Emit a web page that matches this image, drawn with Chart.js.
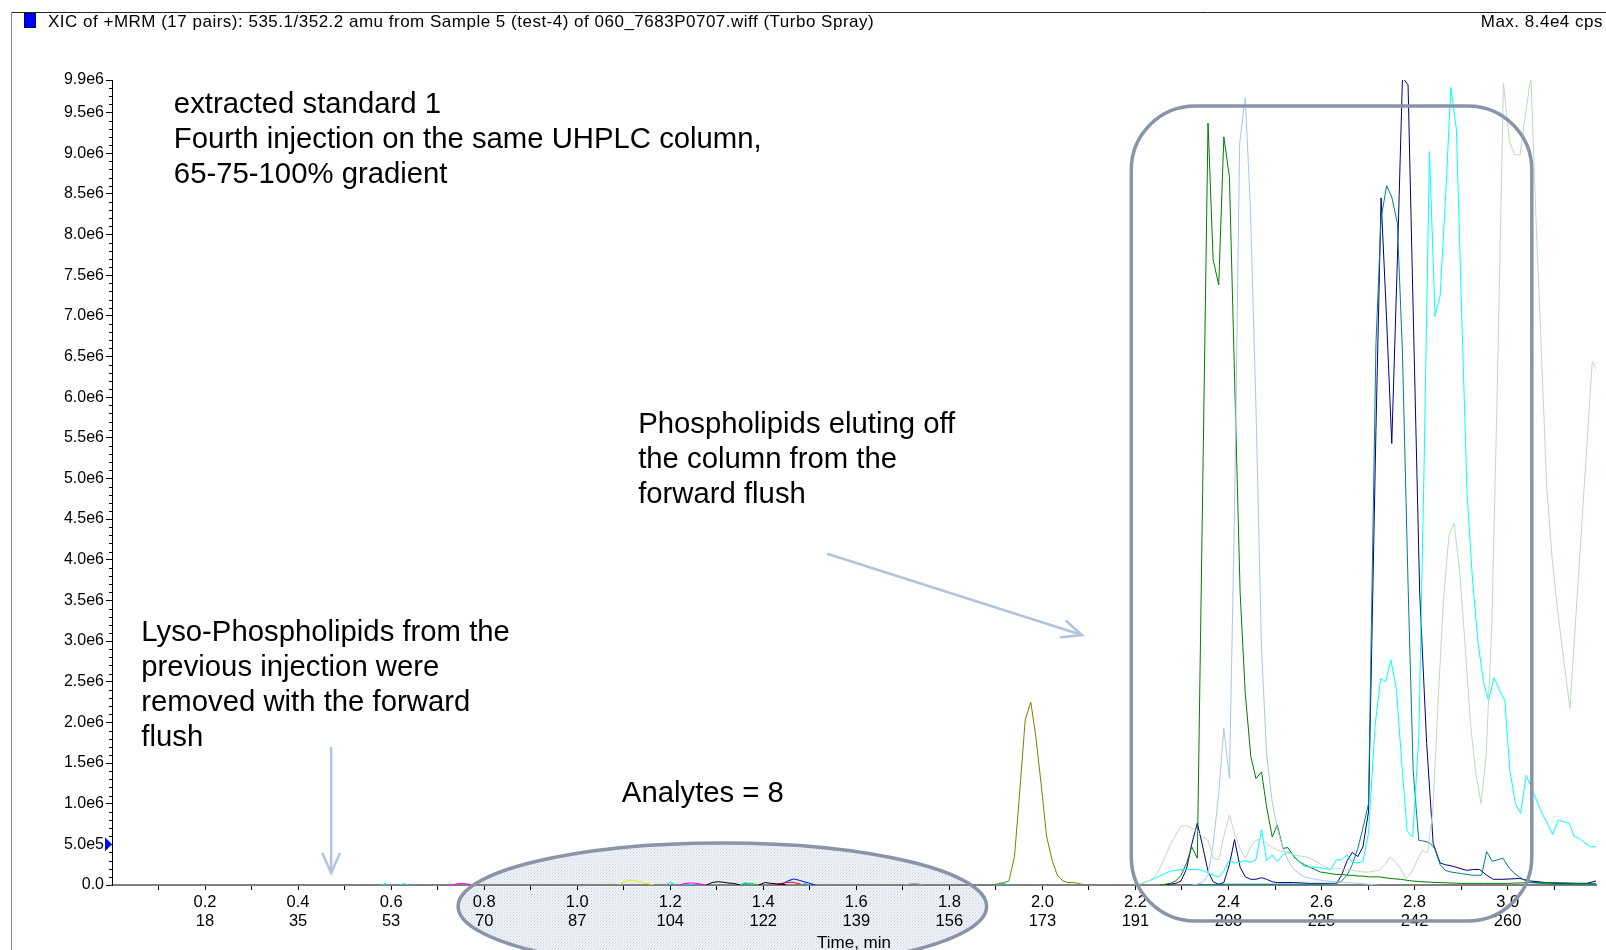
<!DOCTYPE html>
<html><head><meta charset="utf-8">
<script src="https://cdn.jsdelivr.net/npm/chart.js@4.4.1/dist/chart.umd.min.js"></script>
<style>html,body{margin:0;padding:0;background:#fff;overflow:hidden}canvas{display:block}</style>
</head><body>
<canvas id="c" width="1606" height="950"></canvas>
<script>
// ---------- text ----------
const titleText = 'XIC of +MRM (17 pairs): 535.1/352.2 amu from Sample 5 (test-4) of 060_7683P0707.wiff (Turbo Spray)';
const maxText = 'Max. 8.4e4 cps';
const xAxisTitle = 'Time, min';
const noteStandard = ['extracted standard 1', 'Fourth injection on the same UHPLC column,', '65-75-100% gradient'];
const notePhospho = ['Phospholipids eluting off', 'the column from the', 'forward flush'];
const noteLyso = ['Lyso-Phospholipids from the', 'previous injection were', 'removed with the forward', 'flush'];
const noteAnalytes = ['Analytes = 8'];

// ---------- tick labels ----------
const timeLabels = ['0.2','0.4','0.6','0.8','1.0','1.2','1.4','1.6','1.8','2.0','2.2','2.4','2.6','2.8','3.0'];
const cycleLabels = ['18','35','53','70','87','104','122','139','156','173','191','208','225','242','260'];
const yTickValues = [0,0.5,1,1.5,2,2.5,3,3.5,4,4.5,5,5.5,6,6.5,7,7.5,8,8.5,9,9.5,9.9];
const yTickLabels = ['0.0','5.0e5','1.0e6','1.5e6','2.0e6','2.5e6','3.0e6','3.5e6','4.0e6','4.5e6','5.0e6','5.5e6','6.0e6','6.5e6','7.0e6','7.5e6','8.0e6','8.5e6','9.0e6','9.5e6','9.9e6'];

// ---------- series: [time (min), intensity (1e6 cps)] ----------
const palegreenTrace = [[2.2,0],[2.21,0.01],[2.229,0.05],[2.241,0.1],[2.252,0.2],[2.264,0.35],[2.275,0.5],[2.287,0.62],[2.298,0.72],[2.31,0.73],[2.321,0.7],[2.333,0.66],[2.344,0.6],[2.356,0.55],[2.367,0.33],[2.379,0.31],[2.39,0.6],[2.402,0.86],[2.413,0.64],[2.425,0.45],[2.436,0.33],[2.448,0.47],[2.459,0.55],[2.471,0.57],[2.482,0.51],[2.494,0.46],[2.505,0.43],[2.517,0.41],[2.528,0.39],[2.54,0.37],[2.551,0.36],[2.563,0.35],[2.574,0.33],[2.586,0.3],[2.597,0.26],[2.609,0.22],[2.62,0.2],[2.632,0.2],[2.643,0.2],[2.655,0.19],[2.666,0.18],[2.678,0.17],[2.689,0.16],[2.701,0.16],[2.712,0.17],[2.724,0.18],[2.736,0.25],[2.747,0.34],[2.759,0.28],[2.77,0.2],[2.782,0.08],[2.793,0.15],[2.805,0.3],[2.816,0.42],[2.828,0.4],[2.839,0.9],[2.851,2.3],[2.862,3.5],[2.874,4.3],[2.885,4.45],[2.897,3.85],[2.908,3.0],[2.92,2.0],[2.931,1.4],[2.943,1.0],[2.954,1.6],[2.966,3.2],[2.977,5.9],[2.991,9.86],[3.004,9.15],[3.015,8.98],[3.027,8.98],[3.038,9.46],[3.05,9.94],[3.061,8.2],[3.073,6.5],[3.084,4.9],[3.096,4.0],[3.107,3.4],[3.12,2.8],[3.134,2.17],[3.182,6.44],[3.193,6.31]];
const lightblueTrace = [[2.321,0],[2.333,0.01],[2.344,0.03],[2.356,0.12],[2.367,0.5],[2.379,1.12],[2.39,1.93],[2.402,1.31],[2.413,4.6],[2.424,9.12],[2.436,9.68],[2.447,8.34],[2.459,5.9],[2.471,2.9],[2.482,1.6],[2.494,1.02],[2.505,0.7],[2.517,0.45],[2.528,0.3],[2.54,0.2],[2.551,0.14],[2.563,0.1],[2.586,0.07],[2.609,0.05],[2.632,0.04],[2.655,0.03],[2.678,0.02],[2.7,0.01],[2.72,0]];
const cyanTrace = [[2.198,0],[2.21,0.01],[2.229,0.05],[2.241,0.08],[2.252,0.11],[2.264,0.14],[2.275,0.17],[2.287,0.18],[2.298,0.19],[2.31,0.19],[2.321,0.19],[2.333,0.19],[2.344,0.18],[2.356,0.15],[2.367,0.12],[2.379,0.1],[2.39,0.17],[2.402,0.31],[2.413,0.27],[2.425,0.28],[2.436,0.3],[2.448,0.28],[2.459,0.31],[2.471,0.68],[2.482,0.3],[2.494,0.37],[2.505,0.29],[2.517,0.37],[2.528,0.41],[2.54,0.37],[2.551,0.29],[2.563,0.23],[2.574,0.22],[2.586,0.22],[2.597,0.21],[2.609,0.2],[2.62,0.19],[2.632,0.31],[2.643,0.31],[2.655,0.37],[2.666,0.28],[2.678,0.27],[2.689,0.29],[2.701,0.64],[2.715,1.95],[2.727,2.54],[2.738,2.5],[2.749,2.77],[2.761,2.4],[2.772,1.54],[2.784,0.66],[2.796,0.59],[2.809,1.8],[2.82,5.0],[2.832,9.02],[2.844,6.99],[2.855,7.25],[2.867,8.5],[2.878,9.81],[2.89,9.29],[2.9,7.28],[2.913,4.8],[2.924,3.8],[2.936,3.0],[2.948,2.5],[2.959,2.27],[2.971,2.55],[2.982,2.4],[2.994,2.27],[3.005,1.4],[3.017,1.0],[3.028,0.88],[3.04,1.35],[3.051,1.2],[3.063,1.03],[3.074,0.88],[3.086,0.75],[3.097,0.62],[3.109,0.8],[3.12,0.78],[3.132,0.76],[3.143,0.6],[3.155,0.57],[3.166,0.52],[3.178,0.47],[3.19,0.47]];
const tealTrace = [[2.3,0],[2.4,0.01],[2.5,0.01],[2.6,0.01],[2.632,0.02],[2.643,0.05],[2.655,0.12],[2.666,0.25],[2.678,0.45],[2.689,0.7],[2.701,1.0],[2.717,6.66],[2.728,8.2],[2.74,8.6],[2.751,8.46],[2.763,8.14],[2.774,6.54],[2.786,3.7],[2.797,1.4],[2.809,0.55],[2.82,0.54],[2.832,0.52],[2.843,0.45],[2.855,0.25],[2.866,0.18],[2.878,0.16],[2.89,0.15],[2.901,0.14],[2.913,0.13],[2.924,0.12],[2.944,0.12],[2.955,0.41],[2.967,0.29],[2.979,0.31],[2.99,0.33],[3.002,0.22],[3.013,0.15],[3.025,0.1],[3.036,0.06],[3.048,0.03],[3.1,0.01],[3.19,0.01]];
const greenTrace = [[2.252,0],[2.264,0.01],[2.275,0.02],[2.287,0.05],[2.298,0.12],[2.31,0.27],[2.321,0.47],[2.333,0.33],[2.356,9.37],[2.367,7.69],[2.379,7.38],[2.39,9.2],[2.402,8.71],[2.425,3.6],[2.436,2.36],[2.448,1.58],[2.459,1.31],[2.471,1.39],[2.482,0.96],[2.494,0.59],[2.505,0.74],[2.517,0.45],[2.528,0.46],[2.54,0.35],[2.551,0.29],[2.563,0.25],[2.574,0.22],[2.586,0.19],[2.597,0.16],[2.609,0.15],[2.62,0.14],[2.632,0.13],[2.643,0.13],[2.655,0.12],[2.666,0.12],[2.678,0.11],[2.689,0.11],[2.701,0.1],[2.724,0.1],[2.747,0.08],[2.77,0.07],[2.793,0.05],[2.816,0.04],[2.85,0.03],[2.9,0.02],[2.95,0.02],[3.0,0.02],[3.05,0.03],[3.1,0.03],[3.15,0.02],[3.19,0.02]];
const navyTrace = [[2.264,0],[2.275,0.01],[2.287,0.02],[2.298,0.05],[2.31,0.2],[2.321,0.5],[2.333,0.76],[2.344,0.49],[2.356,0.17],[2.367,0.04],[2.379,0.01],[2.39,0.03],[2.402,0.25],[2.413,0.56],[2.425,0.22],[2.436,0.1],[2.448,0.07],[2.459,0.07],[2.471,0.09],[2.482,0.07],[2.494,0.04],[2.505,0.03],[2.54,0.03],[2.574,0.02],[2.609,0.02],[2.632,0.02],[2.643,0.12],[2.655,0.3],[2.666,0.4],[2.678,0.35],[2.689,0.47],[2.701,0.9],[2.717,5.6],[2.728,8.45],[2.74,6.94],[2.751,5.43],[2.763,7.68],[2.774,9.93],[2.786,9.84],[2.797,7.06],[2.811,3.59],[2.826,1.74],[2.84,0.51],[2.855,0.27],[2.866,0.25],[2.883,0.23],[2.9,0.2],[2.912,0.18],[2.926,0.19],[2.94,0.19],[2.955,0.12],[2.969,0.07],[2.99,0.07],[3.026,0.08],[3.048,0.05],[3.1,0.02],[3.17,0.02],[3.19,0.05]];
const oliveTrace = [[1.895,0],[1.906,0.02],[1.917,0.03],[1.928,0.05],[1.94,0.35],[1.951,1.13],[1.963,2.03],[1.975,2.25],[1.986,1.82],[1.998,1.2],[2.009,0.6],[2.021,0.3],[2.032,0.12],[2.044,0.05],[2.055,0.03],[2.067,0.03],[2.078,0.02],[2.09,0]];
// small analyte traces (null = gap)
const magentaTrace = [[0.73,0],[0.742,0.015],[0.753,0.02],[0.765,0.012],[0.776,0],[0.8,null],[1.22,0],[1.232,0.02],[1.243,0.025],[1.255,0.022],[1.266,0.01],[1.278,0]];
const yellowTrace = [[1.09,0],[1.1,0.04],[1.111,0.06],[1.122,0.055],[1.134,0.04],[1.145,0.025],[1.157,0.01],[1.165,0]];
const cyanSmallTrace = [[0.578,0],[0.587,0.015],[0.597,0],[0.61,null],[0.618,0],[0.628,0.015],[0.638,0],[0.9,null],[1.19,0],[1.2,0.035],[1.21,0],[1.22,null],[1.225,0],[1.235,0.015],[1.25,0],[1.3,null],[1.35,0],[1.36,0.03],[1.37,0.012],[1.38,0],[1.4,null],[1.48,0],[1.49,0.02],[1.5,0],[1.7,null],[1.9,0],[1.915,0.02],[1.93,0]];
const blackTrace = [[1.278,0],[1.29,0.03],[1.301,0.04],[1.313,0.035],[1.324,0.025],[1.336,0.02],[1.35,0],[1.37,null],[1.39,0],[1.404,0.03],[1.416,0.02],[1.428,0.015],[1.44,0.01],[1.45,0]];
const brightgreenTrace = [[1.352,0],[1.363,0.02],[1.375,0.02],[1.386,0]];
const redTrace = [[1.425,0],[1.436,0.015],[1.448,0.03],[1.459,0.035],[1.47,0.025],[1.48,0.01],[1.49,0]];
const blueTrace = [[1.43,0],[1.442,0.015],[1.453,0.05],[1.465,0.074],[1.476,0.06],[1.488,0.04],[1.5,0.02],[1.511,0]];
const grayTrace = [[1.705,0],[1.715,0.015],[1.73,0.018],[1.745,0]];

// ---------- annotation anchors in data units (time, 1e6 cps) ----------
const standardAnchor = {t: 0.133, v: 9.59};
const phosphoAnchor = {t: 1.131, v: 5.66};
const lysoAnchor = {t: 0.063, v: 3.10};
const analytesAnchor = {t: 1.096, v: 1.125};
const phosphoArrow = {t0: 1.539, v0: 4.07, t1: 2.085, v1: 3.075};
const lysoArrow = {t0: 0.471, v0: 1.685, t1: 0.471, v1: 0.148};
const ellipseAnchor = {t: 1.312, v: -0.263, rt: 0.568, rv: 0.78};
const boxAnchor = {t0: 2.191, t1: 3.052, v0: 9.58, v1: -0.443};

const FONT = '"Liberation Sans", Arial, Helvetica, sans-serif';
const toXY = arr => arr.map(p => ({x: p[0], y: p[1]}));
const ds = (arr, color) => ({data: toXY(arr), borderColor: color, borderWidth: 1, pointRadius: 0, fill: false, tension: 0, spanGaps: false});

function arrow(ctx, x0, y0, x1, y1) {
  ctx.beginPath(); ctx.moveTo(x0, y0); ctx.lineTo(x1, y1); ctx.stroke();
  const a = Math.atan2(y1 - y0, x1 - x0), L = 21, w = 0.42;
  ctx.beginPath();
  ctx.moveTo(x1 - L * Math.cos(a - w), y1 - L * Math.sin(a - w));
  ctx.lineTo(x1, y1);
  ctx.lineTo(x1 - L * Math.cos(a + w), y1 - L * Math.sin(a + w));
  ctx.stroke();
}
function textLines(ctx, lines, x, y, lh) {
  lines.forEach((s, i) => ctx.fillText(s, x, y + i * lh));
}
function dotPattern(ctx) {
  const c = document.createElement('canvas'); c.width = 3; c.height = 3;
  const g = c.getContext('2d');
  g.fillStyle = 'rgba(255,255,255,0)'; g.fillRect(0, 0, 3, 3);
  g.fillStyle = 'rgba(165,180,210,0.55)'; g.fillRect(0, 0, 1, 1);
  g.fillStyle = 'rgba(200,210,228,0.45)'; g.fillRect(1, 2, 1, 1); g.fillRect(2, 1, 1, 1);
  return ctx.createPattern(c, 'repeat');
}

const decor = {
  id: 'decor',
  beforeDraw(chart) {
    const {ctx, scales: {x, y}} = chart;
    ctx.save();
    ctx.fillStyle = '#fff'; ctx.fillRect(0, 0, chart.width, chart.height);
    const cx = x.getPixelForValue(ellipseAnchor.t), cy = y.getPixelForValue(ellipseAnchor.v);
    const rx = x.getPixelForValue(ellipseAnchor.t + ellipseAnchor.rt) - cx;
    const ry = cy - y.getPixelForValue(ellipseAnchor.v + ellipseAnchor.rv);
    ctx.beginPath(); ctx.ellipse(cx, cy, rx, ry, 0, 0, 2 * Math.PI);
    ctx.fillStyle = 'rgba(226,232,242,0.5)'; ctx.fill();
    ctx.fillStyle = dotPattern(ctx); ctx.fill();
    ctx.restore();
  },
  afterDraw(chart) {
    const {ctx, chartArea: ca, scales: {x, y}} = chart;
    ctx.save();
    // frame lines
    ctx.strokeStyle = '#222'; ctx.lineWidth = 1;
    ctx.beginPath(); ctx.moveTo(12, 12.5); ctx.lineTo(chart.width, 12.5); ctx.stroke();
    ctx.strokeStyle = '#888';
    ctx.beginPath(); ctx.moveTo(11.5, 12); ctx.lineTo(11.5, chart.height); ctx.stroke();
    // header
    ctx.fillStyle = '#0000ff'; ctx.fillRect(24, 13, 12, 15);
    ctx.strokeStyle = '#000060'; ctx.strokeRect(24.5, 13.5, 11, 14);
    ctx.fillStyle = '#000'; ctx.font = '17px ' + FONT; ctx.textBaseline = 'middle';
    if ('letterSpacing' in ctx) ctx.letterSpacing = '0.5px';
    ctx.textAlign = 'left'; ctx.fillText(titleText, 48, 22.5);
    ctx.textAlign = 'right'; ctx.fillText(maxText, chart.width - 3, 22.5);
    if ('letterSpacing' in ctx) ctx.letterSpacing = '0px';
    // minor y ticks
    ctx.strokeStyle = '#000'; ctx.lineWidth = 1;
    for (let k = 1; k < 99; k++) {
      if (k % 5 === 0) continue;
      const py = Math.round(y.getPixelForValue(k / 10)) + 0.5;
      ctx.beginPath(); ctx.moveTo(ca.left - 3, py); ctx.lineTo(ca.left, py); ctx.stroke();
    }
    // marker triangle at 5e5
    const ty = y.getPixelForValue(0.5);
    ctx.fillStyle = '#0000ff';
    ctx.beginPath(); ctx.moveTo(ca.left - 7, ty - 7); ctx.lineTo(ca.left, ty); ctx.lineTo(ca.left - 7, ty + 7); ctx.closePath(); ctx.fill();
    // x axis title
    ctx.fillStyle = '#000'; ctx.font = '17px ' + FONT; ctx.textAlign = 'center';
    ctx.fillText(xAxisTitle, (ca.left + ca.right) / 2, ca.bottom + 58);
    // rounded box
    const bx0 = x.getPixelForValue(boxAnchor.t0), bx1 = x.getPixelForValue(boxAnchor.t1);
    const by0 = y.getPixelForValue(boxAnchor.v0), by1 = y.getPixelForValue(boxAnchor.v1);
    const r = 64;
    ctx.strokeStyle = '#8a94a8'; ctx.lineWidth = 3.5;
    ctx.beginPath();
    ctx.moveTo(bx0 + r, by0); ctx.lineTo(bx1 - r, by0); ctx.arcTo(bx1, by0, bx1, by0 + r, r);
    ctx.lineTo(bx1, by1 - r); ctx.arcTo(bx1, by1, bx1 - r, by1, r);
    ctx.lineTo(bx0 + r, by1); ctx.arcTo(bx0, by1, bx0, by1 - r, r);
    ctx.lineTo(bx0, by0 + r); ctx.arcTo(bx0, by0, bx0 + r, by0, r);
    ctx.closePath(); ctx.stroke();
    // ellipse outline
    const cx = x.getPixelForValue(ellipseAnchor.t), cy = y.getPixelForValue(ellipseAnchor.v);
    const rx = x.getPixelForValue(ellipseAnchor.t + ellipseAnchor.rt) - cx;
    const ry = cy - y.getPixelForValue(ellipseAnchor.v + ellipseAnchor.rv);
    ctx.beginPath(); ctx.ellipse(cx, cy, rx, ry, 0, 0, 2 * Math.PI); ctx.stroke();
    // arrows
    ctx.strokeStyle = '#b3c3de'; ctx.lineWidth = 2.5; ctx.lineCap = 'round';
    arrow(ctx, x.getPixelForValue(phosphoArrow.t0), y.getPixelForValue(phosphoArrow.v0), x.getPixelForValue(phosphoArrow.t1), y.getPixelForValue(phosphoArrow.v1));
    arrow(ctx, x.getPixelForValue(lysoArrow.t0), y.getPixelForValue(lysoArrow.v0), x.getPixelForValue(lysoArrow.t1), y.getPixelForValue(lysoArrow.v1));
    // notes
    ctx.fillStyle = '#000'; ctx.font = '29.3px ' + FONT; ctx.textAlign = 'left'; ctx.textBaseline = 'middle';
    const LH = 34.9;
    textLines(ctx, noteStandard, x.getPixelForValue(standardAnchor.t), y.getPixelForValue(standardAnchor.v), LH);
    textLines(ctx, notePhospho, x.getPixelForValue(phosphoAnchor.t), y.getPixelForValue(phosphoAnchor.v), LH);
    textLines(ctx, noteLyso, x.getPixelForValue(lysoAnchor.t), y.getPixelForValue(lysoAnchor.v), LH);
    textLines(ctx, noteAnalytes, x.getPixelForValue(analytesAnchor.t), y.getPixelForValue(analytesAnchor.v), LH);
    ctx.restore();
  }
};

new Chart(document.getElementById('c'), {
  type: 'line',
  data: {
    datasets: [
      ds(palegreenTrace, '#bcdcbc'),
      ds(lightblueTrace, '#a8c6ee'),
      ds(cyanTrace, '#00ffff'),
      ds(tealTrace, '#008080'),
      ds(greenTrace, '#008000'),
      ds(navyTrace, '#000080'),
      ds(oliveTrace, '#808000'),
      ds(magentaTrace, '#ff00ff'),
      ds(yellowTrace, '#e8e800'),
      ds(cyanSmallTrace, '#00e0e0'),
      ds(blackTrace, '#000000'),
      ds(brightgreenTrace, '#00c000'),
      ds(redTrace, '#ff0000'),
      ds(blueTrace, '#0000ff'),
      ds(grayTrace, '#a0a0a0')
    ]
  },
  options: {
    responsive: false, animation: false, devicePixelRatio: 1,
    layout: {padding: {left: 0, top: 80, right: 10, bottom: 0}},
    plugins: {legend: {display: false}, tooltip: {enabled: false}},
    scales: {
      x: {
        type: 'linear', min: 0, max: 3.19,
        afterBuildTicks: s => { const t = []; for (let k = 1; k <= 31; k++) t.push({value: k / 10}); s.ticks = t; },
        afterFit: s => { s.height = 65; },
        ticks: {
          autoSkip: false, maxRotation: 0, minRotation: 0, padding: 3, color: '#000',
          font: {family: FONT, size: 16.5, lineHeight: 1.13},
          callback: v => { const k = Math.round(v * 10); return (k % 2) ? '' : [timeLabels[k / 2 - 1], cycleLabels[k / 2 - 1]]; }
        },
        grid: {drawOnChartArea: false, drawTicks: true, tickLength: 5, tickColor: '#000'},
        border: {color: '#808080', width: 2}
      },
      y: {
        min: 0, max: 9.9,
        afterBuildTicks: s => { s.ticks = yTickValues.map(v => ({value: v})); },
        afterFit: s => { s.width = 112; },
        ticks: {
          autoSkip: false, padding: 2, color: '#000',
          font: {family: FONT, size: 16},
          callback: (v, i) => yTickLabels[i]
        },
        grid: {drawOnChartArea: false, drawTicks: true, tickLength: 6, tickColor: '#000'},
        border: {color: '#000', width: 1}
      }
    }
  },
  plugins: [decor]
});
</script>
</body></html>
